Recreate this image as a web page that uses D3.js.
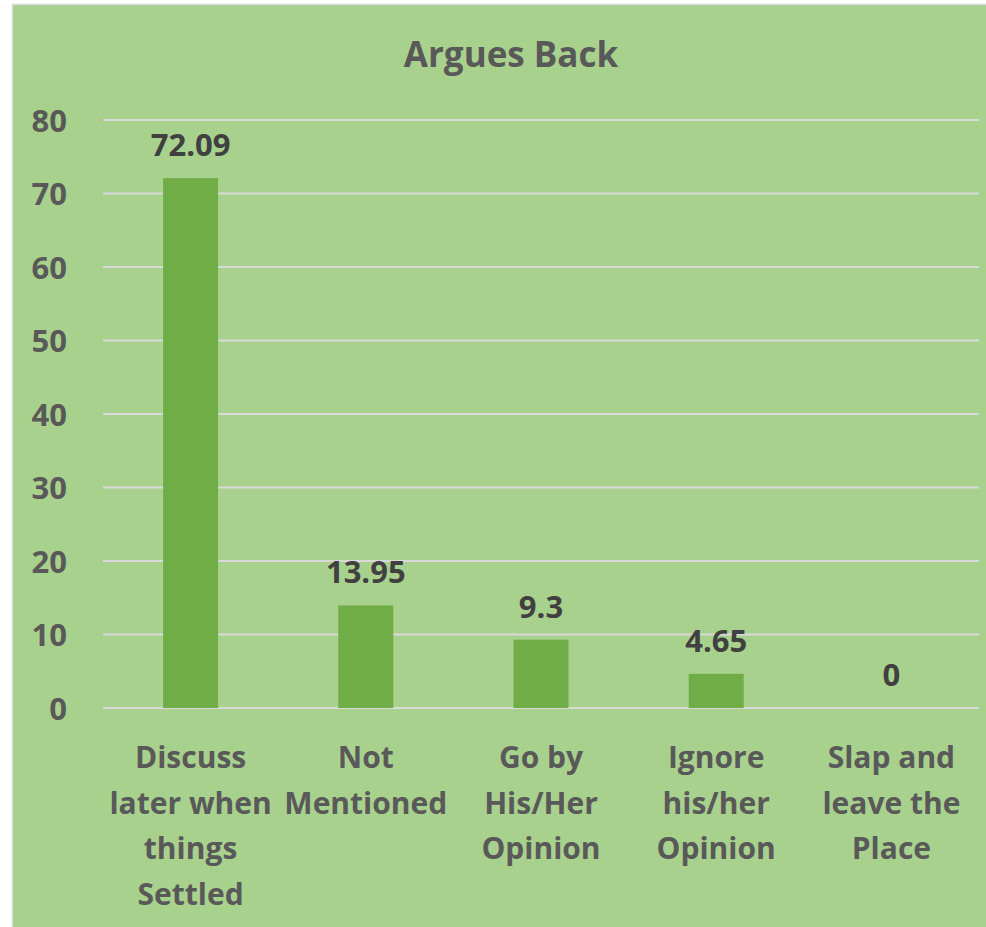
<!DOCTYPE html>
<html>
<head>
<meta charset="utf-8">
<script src="https://cdn.jsdelivr.net/npm/d3@7"></script>
<style>
  body { margin: 0; background: #ffffff; }
  text { font-family: "Open Sans", Lato, sans-serif; font-weight: bold; }
</style>
</head>
<body>
<div id="container"></div>
<script>
var svgWidth = 986;
var svgHeight = 927;

var title = 'Argues Back';
var categories = [
    'Discuss\nlater when\nthings\nSettled',
    'Not\nMentioned',
    'Go by\nHis/Her\nOpinion',
    'Ignore\nhis/her\nOpinion',
    'Slap and\nleave the\nPlace'
];
var values = [72.09, 13.95, 9.3, 4.65, 0];
var valueLabels = ['72.09', '13.95', '9.3', '4.65', '0'];
var yTicks = [0, 10, 20, 30, 40, 50, 60, 70, 80];

var plotLeft = 103, plotRight = 979, plotTop = 120, plotBottom = 708;

var svg = d3.select('#container').append('svg')
        .attr('width', svgWidth)
        .attr('height', svgHeight)
;

// chart background
svg.append('rect')
    .attr('x', 12.5)
    .attr('y', 4.5)
    .attr('width', svgWidth)
    .attr('height', svgHeight)
    .style('fill', '#a9d18e')
    .style('stroke', '#d9d9d9')
    .style('stroke-width', 1.5)
;

var x = d3.scaleBand()
        .domain(categories)
        .range([plotLeft, plotRight])
        .padding(0)
;

var y = d3.scaleLinear()
        .domain([0, 80])
        .range([plotBottom, plotTop])
;

var barWidth = x.bandwidth() * 0.314;

// gridlines
svg.append('g').selectAll('line')
    .data(yTicks)
    .enter().append('line')
    .attr('x1', plotLeft)
    .attr('x2', plotRight)
    .attr('y1', function (d) { return y(d); })
    .attr('y2', function (d) { return y(d); })
    .style('stroke', '#d9d9d9')
    .style('stroke-width', 2)
;

// y axis labels
var yAxis = d3.axisLeft(y).tickValues(yTicks).tickSize(0).tickPadding(0);
var yAxisG = svg.append('g')
    .attr('transform', 'translate(67,0)')
    .call(yAxis);
yAxisG.select('.domain').remove();
yAxisG.selectAll('text')
    .style('font-size', '31px')
    .style('font-family', '"Open Sans", Lato, sans-serif')
    .style('font-weight', 'bold')
    .style('fill', '#595959')
    .attr('dy', '0.36em');

// bars
svg.append('g').selectAll('rect')
    .data(values)
    .enter().append('rect')
    .attr('x', function (d, i) { return x(categories[i]) + (x.bandwidth() - barWidth) / 2; })
    .attr('y', function (d) { return y(d); })
    .attr('width', barWidth)
    .attr('height', function (d) { return y(0) - y(d); })
    .style('fill', '#70ad47')
;

// value labels
svg.append('g').selectAll('text')
    .data(values)
    .enter().append('text')
    .attr('x', function (d, i) { return x(categories[i]) + x.bandwidth() / 2; })
    .attr('y', function (d) { return y(d) - 22; })
    .attr('text-anchor', 'middle')
    .style('font-size', '31px')
    .style('fill', '#404040')
    .text(function (d, i) { return valueLabels[i]; })
;

// category labels
var catG = svg.append('g').selectAll('text')
    .data(categories)
    .enter().append('text')
    .attr('text-anchor', 'middle')
    .style('font-size', '30px')
    .style('fill', '#595959')
;
catG.each(function (c) {
    var t = d3.select(this);
    c.split('\n').forEach(function (line, j) {
        t.append('tspan')
            .attr('x', x(c) + x.bandwidth() / 2)
            .attr('y', 768 + j * 45.5)
            .text(line);
    });
});

// title
svg.append('text')
    .attr('x', 511)
    .attr('y', 67)
    .attr('text-anchor', 'middle')
    .style('font-size', '35px')
    .style('fill', '#595959')
    .text(title)
;
</script>
</body>
</html>
